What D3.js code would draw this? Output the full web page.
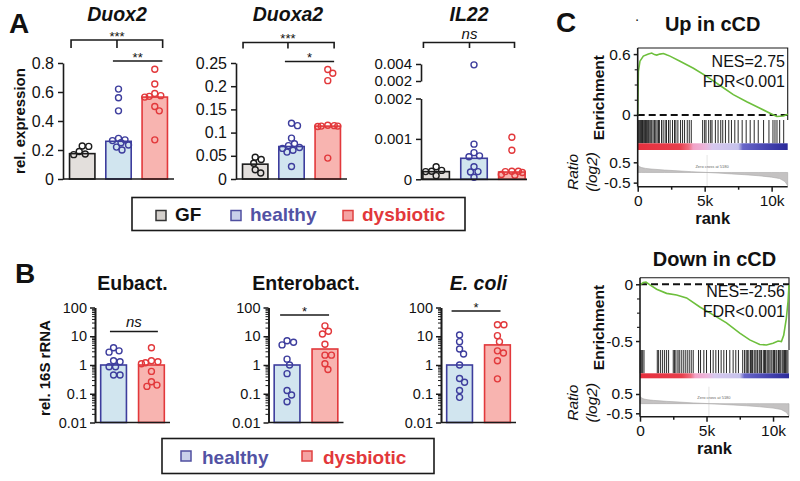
<!DOCTYPE html>
<html><head><meta charset="utf-8">
<script src="https://cdn.jsdelivr.net/npm/d3@7/dist/d3.min.js"></script>
<style>
html,body{margin:0;padding:0;background:#fff}
svg{display:block}
</style></head>
<body>
<svg id="chart" width="800" height="481"></svg>
<script>
// ================= DATA =================
const groupsA = ["GF", "healthy", "dysbiotic"];
const groupsB = ["healthy", "dysbiotic"];
const legendALabels = ["GF", "healthy", "dysbiotic"];
const legendBLabels = ["healthy", "dysbiotic"];

// Panel A – Duox2
const duox2Mean = [0.175, 0.26, 0.565];
const duox2GF = [0.228, 0.225, 0.19, 0.168, 0.172];
const duox2Healthy = [0.62, 0.56, 0.47, 0.28, 0.27, 0.265, 0.25, 0.235, 0.22, 0.2];
const duox2Dysbiotic = [0.757, 0.655, 0.59, 0.575, 0.57, 0.565, 0.5, 0.47, 0.27];
const duox2Ticks = [0, 0.2, 0.4, 0.6, 0.8];

// Panel A – Duoxa2
const duoxa2Mean = [0.032, 0.07, 0.114];
const duoxa2GF = [0.047, 0.042, 0.034, 0.02, 0.013];
const duoxa2Healthy = [0.12, 0.115, 0.088, 0.076, 0.072, 0.068, 0.066, 0.062, 0.058, 0.027];
const duoxa2Dysbiotic = [0.236, 0.228, 0.212, 0.116, 0.115, 0.114, 0.114, 0.113, 0.045];
const duoxa2Ticks = [0, 0.05, 0.1, 0.15, 0.2, 0.25];

// Panel A – IL22 (broken axis)
const il22Mean = [0.00019, 0.00052, 0.00018];
const il22GF = [0.00031, 0.00022, 0.0002, 0.00019, 0.00009];
const il22Healthy = [0.0039, 0.00087, 0.00066, 0.00058, 0.00056, 0.00031, 0.00019, 0.00018, 0.00005];
const il22Dysbiotic = [0.00104, 0.00072, 0.0002, 0.0002, 0.00019, 0.00017, 0.00012, 0.0001];
const il22TicksLow = [0, 0.001, 0.002];
const il22TicksHigh = [0.002, 0.004];

// Panel B – 16S rRNA (log)
const eubactMean = [1.0, 1.0];
const eubactHealthy = [4.0, 3.1, 2.8, 1.4, 1.3, 0.87, 0.87, 0.45, 0.45];
const eubactDysbiotic = [4.0, 1.4, 1.3, 1.2, 1.1, 0.6, 0.26, 0.2, 0.18];
const enteroMean = [1.0, 3.6];
const enteroHealthy = [7.0, 6.2, 5.0, 1.6, 1.0, 0.5, 0.13, 0.09, 0.053];
const enteroDysbiotic = [23, 15, 12, 5.3, 2.2, 2.2, 1.1, 0.7];
const ecoliMean = [1.0, 5.0];
const ecoliHealthy = [11, 6.5, 3.6, 2.4, 1.0, 0.34, 0.25, 0.13, 0.075];
const ecoliDysbiotic = [25, 25, 10.5, 6.5, 3.1, 2.6, 1.4, 0.33];
const logTicks = [0.01, 0.1, 1, 10, 100];
const logTickLabels = ["0.01", "0.1", "1", "10", "100"];

// Panel C – GSEA
const rankMax = 11200;
const rankTicks = [0, 5000, 10000];
const rankTickLabels = ["0", "5k", "10k"];
const rankMinorTicks = [2500, 7500];

const upRank = [0, 50, 170, 420, 800, 1050, 1250, 1420, 1650, 1920, 2200, 2410, 3160, 4160, 5150, 6150, 7140, 8140, 9130, 9880, 10380, 10880, 11200];
const upES   = [0, 0.43, 0.53, 0.58, 0.60, 0.61, 0.595, 0.59, 0.6, 0.605, 0.59, 0.58, 0.53, 0.46, 0.38, 0.29, 0.20, 0.13, 0.066, 0.016, -0.016, -0.01, 0.007];
const upHits = [20, 80, 150, 220, 280, 360, 420, 500, 580, 650, 720, 800, 900, 980, 1050, 1150, 1250, 1350, 1450, 1550, 1620,
  1780, 1900, 2050, 2150, 2300, 2420, 2600, 2750, 2850, 3000, 3200, 3350, 3500, 3700, 3850, 4000,
  4850, 5000, 5100, 5300, 5450, 5550, 5800, 6000, 6200, 6350, 6550, 6800, 7000, 7250, 7500, 7800, 8100, 8400, 8700, 9000, 9400, 9800, 10100, 10250, 10400, 10600, 10900];

const downRank = [0, 250, 450, 750, 1250, 2000, 2750, 3500, 4500, 5500, 6500, 7500, 8250, 9000, 9500, 10000, 10380, 10630, 10800, 11000, 11130, 11200];
const downES   = [-0.006, 0.015, 0.02, -0.006, -0.044, -0.08, -0.094, -0.12, -0.2, -0.27, -0.34, -0.43, -0.49, -0.53, -0.535, -0.52, -0.5, -0.505, -0.45, -0.3, -0.15, -0.006];
const downHits = [20, 100, 200, 300, 1300, 1400, 1550, 1700, 1850, 2000, 2150, 2500, 2600, 2700, 2850, 2950, 3100, 3250, 3400, 3550, 3700, 3850, 4000,
  4400, 4550, 4800, 5000, 5300, 5500, 5700, 5900, 6100, 6300, 6500, 6750, 7000, 7200, 7400,
  7720, 7860, 7980, 8070, 8180, 8310, 8370, 8460, 8580, 8660, 8790, 8850, 8970, 9080, 9140, 9270, 9360, 9440, 9550, 9630, 9710, 9840, 9920,
  10030, 10110, 10220, 10290, 10410, 10500, 10580, 10690, 10770, 10860, 10940, 11030, 11120];

const ratioRank = [0, 100, 300, 600, 1000, 2000, 3000, 4000, 5180, 6000, 7000, 8000, 9000, 10000, 10600, 11000, 11200];
const ratioVal  = [0.38, 0.3, 0.24, 0.2, 0.17, 0.12, 0.08, 0.04, 0, -0.03, -0.07, -0.11, -0.16, -0.23, -0.3, -0.45, -0.65];

// ================= DRAWING =================
const svg = d3.select("#chart");
const FONT = 'Arial, "Liberation Sans", Helvetica, sans-serif';
svg.append("rect").attr("width", 800).attr("height", 481).attr("fill", "#fff");

const col = {
  GF:        { fill: "#e3dfdc", stroke: "#1c1c1c", text: "#111111", leg: "#d4d0cc", legStroke: "#333" },
  healthy:   { fill: "#d1e5ef", stroke: "#3d3d9d", text: "#5252a4", leg: "#c9d0ea", legStroke: "#4f4fa0" },
  dysbiotic: { fill: "#f8b4b0", stroke: "#e2383b", text: "#e2383b", leg: "#f5a3a3", legStroke: "#e04040" }
};
const INK = "#1a1a1a";

function txt(t, x, y, size, o = {}) {
  const e = svg.append("text").attr("x", x).attr("y", y).text(t)
    .attr("font-family", FONT).attr("font-size", size)
    .attr("font-weight", o.bold ? "bold" : "normal")
    .attr("font-style", o.italic ? "italic" : "normal")
    .attr("text-anchor", o.anchor || "start")
    .attr("fill", o.fill || "#111");
  if (o.rotate) e.attr("transform", `rotate(-90,${x},${y})`);
  return e;
}

function styleAxis(sel, size) {
  sel.attr("font-family", FONT).attr("font-size", size);
  sel.selectAll("text").attr("fill", "#111");
  sel.selectAll(".tick line").attr("stroke", INK).attr("stroke-width", 1.5);
  sel.select(".domain").attr("stroke", INK).attr("stroke-width", 1.6);
}

// beeswarm-like horizontal spread, kept inside the bar
function swarm(vals, yf, cx, halfW) {
  const minD = 6.2, lim = Math.max(0, halfW - 2.5);
  const pts = vals.map(v => ({ v, y: yf(v) })).sort((a, b) => a.y - b.y);
  const placed = [];
  pts.forEach(p => {
    let best = 0, bestScore = -1, chosen = null;
    for (let s = 0; s <= lim && chosen === null; s += 0.5) {
      for (const sg of (s === 0 ? [1] : [1, -1])) {
        const c = sg * s;
        const sc = placed.length ? d3.min(placed, q => Math.hypot(q.x - (cx + c), q.y - p.y)) : Infinity;
        if (sc >= minD) { chosen = c; break; }
        if (sc > bestScore) { bestScore = sc; best = c; }
      }
    }
    p.x = cx + (chosen === null ? best : chosen);
    placed.push(p);
  });
  return pts;
}

function barPanel(cfg) {
  const g = svg.append("g");
  const x = d3.scaleBand().domain(cfg.groups).range(cfg.xr).paddingInner(cfg.pi).paddingOuter(cfg.po);
  const bw = x.bandwidth();
  cfg.groups.forEach((k, i) => {
    const top = cfg.yf(cfg.means[i]);
    g.append("rect").attr("x", x(k)).attr("y", top).attr("width", bw).attr("height", cfg.base - top)
      .attr("fill", col[k].fill).attr("stroke", col[k].stroke).attr("stroke-width", 1.6);
  });
  cfg.groups.forEach((k, i) => {
    const pts = swarm(cfg.pts[i], cfg.yf, x(k) + bw / 2, bw / 2);
    g.selectAll(null).data(pts).join("circle")
      .attr("cx", d => d.x).attr("cy", d => d.y).attr("r", 3.0)
      .attr("fill", "none").attr("stroke", col[k].stroke).attr("stroke-width", 1.4);
  });
  g.append("line").attr("x1", cfg.xr[0]).attr("x2", cfg.xr[1]).attr("y1", cfg.base).attr("y2", cfg.base)
    .attr("stroke", INK).attr("stroke-width", 1.7);
  return { x, bw, g };
}

function bracket3(p, fr, y, tick, label, lsize, italic) {
  const xs = groupsA.map((k, i) => p.x(k) + fr[i] * p.bw);
  svg.append("path").attr("d", `M${xs[0]},${y + tick}V${y}H${xs[2]}V${y + tick}M${xs[1]},${y}V${y + tick}`)
    .attr("fill", "none").attr("stroke", INK).attr("stroke-width", 1.6);
  txt(label, xs[1], italic ? y - 4 : y + 0.5, lsize, { anchor: "middle", italic });
}
function sigLine(p, ga, gb, fa, fb, y, label, lsize, italic) {
  const x1 = p.x(ga) + fa * p.bw, x2 = p.x(gb) + fb * p.bw;
  svg.append("line").attr("x1", x1).attr("x2", x2).attr("y1", y).attr("y2", y)
    .attr("stroke", INK).attr("stroke-width", 1.6);
  txt(label, (x1 + x2) / 2, italic ? y - 4.5 : y + 0.5, lsize, { anchor: "middle", italic });
}

const numFmt = d => d === 0 ? "0" : String(+d.toFixed(3));

// ---------- Panel A ----------
txt("A", 9, 33, 28, { bold: true });

// Duox2
{
  const y = d3.scaleLinear().domain([0, 0.8]).range([179, 63]);
  const p = barPanel({ groups: groupsA, xr: [63, 174], pi: 0.3, po: 0.18, yf: y, base: 179,
    means: duox2Mean, pts: [duox2GF, duox2Healthy, duox2Dysbiotic] });
  const ax = svg.append("g").attr("transform", "translate(63,0)")
    .call(d3.axisLeft(y).tickValues(duox2Ticks).tickFormat(d => d === 0 ? "0" : d3.format(".1f")(d)).tickSize(5).tickPadding(4).tickSizeOuter(0));
  styleAxis(ax, 16);
  txt("Duox2", 117, 21, 19.5, { bold: true, italic: true, anchor: "middle" });
  bracket3(p, [0.06, 0.44, 0.81], 40, 8, "***", 13, false);
  sigLine(p, "healthy", "dysbiotic", 0.28, 0.8, 61, "**", 13, false);
  txt("rel. expression", 25, 121, 15, { bold: true, anchor: "middle", rotate: true });
}

// Duoxa2
{
  const y = d3.scaleLinear().domain([0, 0.25]).range([179, 63]);
  const p = barPanel({ groups: groupsA, xr: [236, 347], pi: 0.3, po: 0.18, yf: y, base: 179,
    means: duoxa2Mean, pts: [duoxa2GF, duoxa2Healthy, duoxa2Dysbiotic] });
  const ax = svg.append("g").attr("transform", "translate(236,0)")
    .call(d3.axisLeft(y).tickValues(duoxa2Ticks).tickFormat(numFmt).tickSize(5).tickPadding(4).tickSizeOuter(0));
  styleAxis(ax, 16);
  txt("Duoxa2", 288, 21, 19.5, { bold: true, italic: true, anchor: "middle" });
  bracket3(p, [0.02, 0.36, 0.75], 42.5, 6, "***", 13, false);
  sigLine(p, "healthy", "dysbiotic", 0.24, 0.75, 61.5, "*", 13, false);
}

// IL22
{
  const yLow = d3.scaleLinear().domain([0, 0.002]).range([179.3, 98.5]);
  const yHigh = d3.scaleLinear().domain([0.002, 0.004]).range([81, 64]);
  const yf = v => v <= 0.002 ? yLow(v) : yHigh(v);
  const p = barPanel({ groups: groupsA, xr: [421, 527], pi: 0.3, po: 0.05, yf, base: 179.3,
    means: il22Mean, pts: [il22GF, il22Healthy, il22Dysbiotic] });
  const a1 = svg.append("g").attr("transform", "translate(421,0)")
    .call(d3.axisLeft(yLow).tickValues(il22TicksLow).tickFormat(numFmt).tickSize(5).tickPadding(4).tickSizeOuter(0));
  styleAxis(a1, 15);
  const a2 = svg.append("g").attr("transform", "translate(421,0)")
    .call(d3.axisLeft(yHigh).tickValues(il22TicksHigh).tickFormat(numFmt).tickSize(5).tickPadding(4).tickSizeOuter(0));
  styleAxis(a2, 15);
  txt("IL22", 469, 21, 19.5, { bold: true, italic: true, anchor: "middle" });
  bracket3(p, [0.02, 0.33, 0.6], 42.5, 5.5, "ns", 15, true);
}

// Legend A
{
  svg.append("rect").attr("x", 132).attr("y", 197.5).attr("width", 333).attr("height", 33)
    .attr("fill", "#fff").attr("stroke", INK).attr("stroke-width", 1.6);
  const sx = [156, 231, 343];
  groupsA.forEach((k, i) => {
    svg.append("rect").attr("x", sx[i]).attr("y", 210.5).attr("width", 10).attr("height", 10)
      .attr("fill", col[k].leg).attr("stroke", col[k].legStroke).attr("stroke-width", 1.5);
    txt(legendALabels[i], sx[i] + 19, 221, 19, { bold: true, fill: col[k].text });
  });
}

// ---------- Panel B ----------
txt("B", 15, 283, 28, { bold: true });
const yLog = d3.scaleLog().domain([0.01, 100]).range([422.5, 307.5]);
const minorLog = yLog.ticks().filter(v => !logTicks.some(t => Math.abs(t - v) < 1e-9));

function logPanel(ax0, means, hv, dv, title, italicTitle, fa, fb, lineY, label, italicLabel) {
  const p = barPanel({ groups: groupsB, xr: [ax0, ax0 + 75], pi: 0.32, po: 0.15, yf: yLog, base: 422.5,
    means, pts: [hv, dv] });
  const a = svg.append("g").attr("transform", `translate(${ax0},0)`)
    .call(d3.axisLeft(yLog).tickValues(logTicks).tickFormat((d, i) => logTickLabels[i]).tickSize(5).tickPadding(3).tickSizeOuter(0));
  styleAxis(a, 14.5);
  const m = svg.append("g").attr("transform", `translate(${ax0},0)`)
    .call(d3.axisLeft(yLog).tickValues(minorLog).tickFormat("").tickSize(3).tickSizeOuter(0));
  styleAxis(m, 14.5);
  m.selectAll(".tick line").attr("stroke-width", 1);
  txt(title, p.x("healthy") + (p.x("dysbiotic") + p.bw - p.x("healthy")) / 2, 290, 19.5, { bold: true, italic: italicTitle, anchor: "middle" });
  sigLine(p, "healthy", "dysbiotic", fa, fb, lineY, label, italicLabel ? 15 : 13, italicLabel);
}
logPanel(95, eubactMean, eubactHealthy, eubactDysbiotic, "Eubact.", false, 0.36, 0.75, 331.5, "ns", true);
logPanel(268.5, enteroMean, enteroHealthy, enteroDysbiotic, "Enterobact.", false, 0.23, 0.66, 315, "*", false);
logPanel(441, ecoliMean, ecoliHealthy, ecoliDysbiotic, "E. coli", true, 0.19, 0.62, 311, "*", false);
txt("rel. 16S rRNA", 50, 368, 15, { bold: true, anchor: "middle", rotate: true });

// Legend B
{
  svg.append("rect").attr("x", 162).attr("y", 438.5).attr("width", 272).attr("height", 35)
    .attr("fill", "#fff").attr("stroke", INK).attr("stroke-width", 1.6);
  const sx = [181, 302];
  groupsB.forEach((k, i) => {
    svg.append("rect").attr("x", sx[i]).attr("y", 451).attr("width", 10).attr("height", 10)
      .attr("fill", col[k].leg).attr("stroke", col[k].legStroke).attr("stroke-width", 1.5);
    txt(legendBLabels[i], sx[i] + 21, 463.5, 19, { bold: true, fill: col[k].text });
  });
}

// ---------- Panel C ----------
txt("C", 556, 32, 28, { bold: true });
txt("·", 637, 24, 14, { anchor: "middle" });

const defs = svg.append("defs");
const grad = defs.append("linearGradient").attr("id", "rankGrad").attr("x1", "0").attr("x2", "1").attr("y1", "0").attr("y2", "0");
[[0, "#e6303e"], [0.28, "#e83e4c"], [0.34, "#ef6e80"], [0.37, "#f2a2c6"], [0.45, "#ecb6dc"], [0.5, "#d6c8ee"],
 [0.67, "#c6c2ec"], [0.7, "#6866c8"], [0.85, "#4846b2"], [1, "#2b2a9a"]]
  .forEach(s => grad.append("stop").attr("offset", s[0]).attr("stop-color", s[1]));

function gsea(o) {
  const g = svg.append("g");
  const x = d3.scaleLinear().domain([0, rankMax]).range([o.x0, o.x1]);
  const yE = d3.scaleLinear().domain(o.esDom).range([o.esB, o.esT]);
  const yR = d3.scaleLinear().domain(o.rDom).range([o.rB, o.rT]);
  g.append("path").attr("d", `M${o.x0},${o.esT}H${o.x1}V${o.esB}`).attr("fill", "none").attr("stroke", INK).attr("stroke-width", 1.1);
  const rd = d3.zip(ratioRank, ratioVal);
  g.append("line").attr("x1", x(5180)).attr("x2", x(5180)).attr("y1", o.rT).attr("y2", o.rB).attr("stroke", "#d8d8d8").attr("stroke-width", 0.7);
  g.append("path").datum(rd).attr("d", d3.area().x(d => x(d[0])).y0(yR(0)).y1(d => yR(d[1])))
    .attr("fill", "#c4c2c2").attr("stroke", "#a9a7a7").attr("stroke-width", 0.6);
  g.append("text").attr("x", x(5180) + 5).attr("y", yR(0) - 4.5).text("Zero cross at 5180")
    .attr("font-family", FONT).attr("font-size", 4).attr("text-anchor", "middle").attr("fill", "#666");
  g.selectAll(null).data(o.hits).join("line")
    .attr("x1", d => x(d)).attr("x2", d => x(d)).attr("y1", o.bT).attr("y2", o.bB)
    .attr("stroke", "#111").attr("stroke-width", 0.9);
  g.append("rect").attr("x", o.x0).attr("width", o.x1 - o.x0).attr("y", o.bB).attr("height", o.cB - o.bB).attr("fill", "url(#rankGrad)");
  g.append("line").attr("x1", o.x0).attr("x2", o.x1).attr("y1", yE(0)).attr("y2", yE(0))
    .attr("stroke", "#111").attr("stroke-width", 2).attr("stroke-dasharray", "7,4");
  g.append("path").datum(d3.zip(o.rank, o.es))
    .attr("d", d3.line().x(d => x(d[0])).y(d => yE(d[1])))
    .attr("fill", "none").attr("stroke", "#6dbf3c").attr("stroke-width", 1.6);
  g.append("line").attr("x1", o.x0).attr("x2", o.x0).attr("y1", o.esT).attr("y2", o.rB).attr("stroke", INK).attr("stroke-width", 1.6);
  const aE = g.append("g").attr("transform", `translate(${o.x0},0)`)
    .call(d3.axisLeft(yE).tickValues(o.esTicks).tickFormat(d => String(d)).tickSize(4).tickPadding(3).tickSizeOuter(0));
  styleAxis(aE, 15.5); aE.select(".domain").remove();
  const aEm = g.append("g").attr("transform", `translate(${o.x0},0)`)
    .call(d3.axisLeft(yE).tickValues(o.esMinor).tickFormat("").tickSize(3).tickSizeOuter(0));
  styleAxis(aEm, 15); aEm.select(".domain").remove(); aEm.selectAll(".tick line").attr("stroke-width", 1.1);
  const aR = g.append("g").attr("transform", `translate(${o.x0},0)`)
    .call(d3.axisLeft(yR).tickValues([0.5, -0.5]).tickFormat(d => String(d)).tickSize(4).tickPadding(3).tickSizeOuter(0));
  styleAxis(aR, 15.5); aR.select(".domain").remove();
  const aX = g.append("g").attr("transform", `translate(0,${o.rB})`)
    .call(d3.axisBottom(x).tickValues(rankTicks).tickFormat((d, i) => rankTickLabels[i]).tickSize(5).tickPadding(3).tickSizeOuter(0));
  styleAxis(aX, 15.5);
  aX.select(".domain").attr("d", `M${o.x0},0H${o.x1}`);
  const aXm = g.append("g").attr("transform", `translate(0,${o.rB})`)
    .call(d3.axisBottom(x).tickValues(rankMinorTicks).tickFormat("").tickSize(3).tickSizeOuter(0));
  styleAxis(aXm, 15); aXm.select(".domain").remove();
  const cx = (o.x0 + o.x1) / 2;
  txt(o.title, cx, o.titleY, 20, { bold: true, anchor: "middle" });
  txt("Enrichment", 604, (o.esT + o.bB) / 2 + 2, 15.5, { bold: true, anchor: "middle", rotate: true });
  txt("Ratio", 578, (o.rT + o.rB) / 2 + 1, 15.5, { italic: true, anchor: "middle", rotate: true });
  txt("(log2)", 597, (o.rT + o.rB) / 2 + 1, 15.5, { italic: true, anchor: "middle", rotate: true });
  txt("rank", cx, o.rB + 37.5, 16.5, { bold: true, anchor: "middle" });
  txt(o.nes, 785, o.esT + 19, 16, { anchor: "end" });
  txt("FDR<0.001", 785, o.esT + 39.3, 16, { anchor: "end" });
}

gsea({ x0: 637.7, x1: 787.7, esT: 48, esB: 120, esDom: [-0.05, 0.66], esTicks: [0, 0.6], esMinor: [0.15, 0.3, 0.45],
  bT: 120, bB: 143.3, cB: 150, rT: 155, rB: 186.7, rDom: [-0.70, 0.86],
  rank: upRank, es: upES, hits: upHits, title: "Up in cCD", titleY: 31, nes: "NES=2.75" });

gsea({ x0: 640, x1: 789, esT: 277.7, esB: 350, esDom: [-0.579, 0.058], esTicks: [0, -0.5], esMinor: [-0.125, -0.25, -0.375],
  bT: 350, bB: 373.3, cB: 378.3, rT: 386.7, rB: 416.7, rDom: [-0.676, 0.878],
  rank: downRank, es: downES, hits: downHits, title: "Down in cCD", titleY: 265.5, nes: "NES=-2.56" });
</script>
</body></html>
